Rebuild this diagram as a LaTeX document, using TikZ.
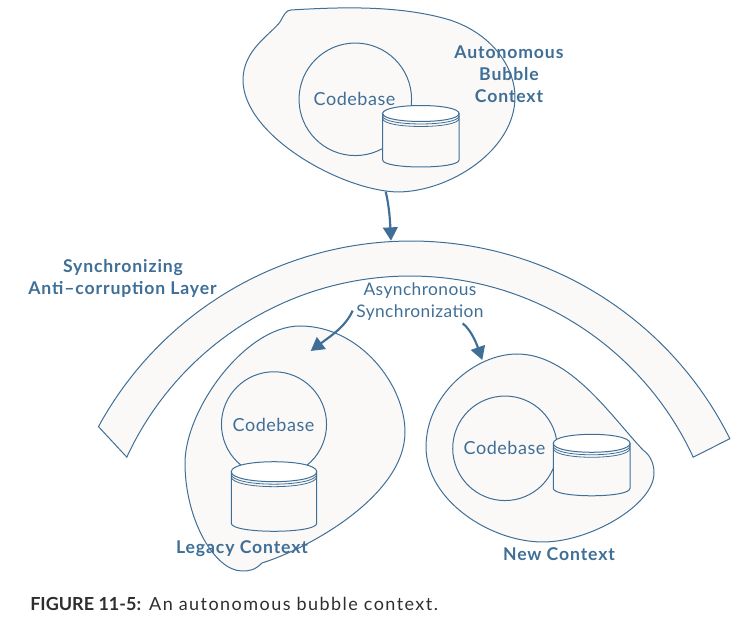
\documentclass[tikz,border=0pt]{standalone}
\usepackage{fontspec}
\setmainfont{Lato}
\usetikzlibrary{arrows.meta}
\definecolor{ink}{HTML}{3F6F96}
\definecolor{paper}{HTML}{FBF9F8}
\definecolor{capt}{HTML}{2E2E2E}
\tikzset{
  blob/.style={draw=ink,fill=paper,line width=0.75pt},
  codecircle/.style={circle,draw=ink,fill=paper,line width=0.75pt,inner sep=0pt},
  bodytext/.style={text=ink,font=\fontsize{13.5pt}{15pt}\selectfont\addfontfeature{LetterSpace=3},inner sep=0pt},
  synctext/.style={text=ink,font=\fontsize{13pt}{15pt}\selectfont\addfontfeature{LetterSpace=2.5},inner sep=0pt},
  boldtext/.style={text=ink,font=\fontsize{13.2pt}{15pt}\selectfont\bfseries\addfontfeature{LetterSpace=5},inner sep=0pt},
  flow/.style={draw=ink,line width=1.6pt,-{Triangle[length=10pt,width=11pt]}}
}
\newcommand{\cylinder}[6]{% left,right,top-centre y,ry,side end y,bottom ry
  \draw[ink,fill=paper,line width=0.75pt] (#1,#3) -- (#1,#5) .. controls (#1,#5+1.33*#6) and (#2,#5+1.33*#6) .. (#2,#5) -- (#2,#3) -- cycle;
  \draw[ink,fill=white,line width=0.75pt] (#1,#3) .. controls (#1,#3-1.33*#4) and (#2,#3-1.33*#4) .. (#2,#3) .. controls (#2,#3+1.33*#4) and (#1,#3+1.33*#4) .. cycle;
  \draw[ink,line width=0.6pt] (#1,#3+2.5) .. controls (#1,#3+2.5+1.33*#4) and (#2,#3+2.5+1.33*#4) .. (#2,#3+2.5);
  \draw[ink,line width=0.6pt] (#1,#3+5) .. controls (#1,#3+5+1.33*#4) and (#2,#3+5+1.33*#4) .. (#2,#3+5);
}
\begin{document}
\begin{tikzpicture}[x=0.75pt,y=-0.75pt]
\useasboundingbox (0,0) rectangle (751,620);
% band
\draw[blob] plot[domain=208.6:333.6,samples=80] ({411+356*cos(\x)},{597+356*sin(\x)})
  -- plot[domain=335.2:204.8,samples=80] ({410+312*cos(\x)},{588+312*sin(\x)}) -- cycle;
% top bubble
\draw[blob] (291,10) .. controls (340,7) and (400,5) .. (450,20) .. controls (495,35) and (515,70) .. (515,97) .. controls (515,150) and (450,192) .. (397,192) .. controls (340,190) and (243,135) .. (243,80) .. controls (243,50) and (270,35) .. (280,22) .. controls (284,15) and (286,10) .. cycle;
\node[codecircle,minimum size=84.4pt] (c1) at (355.3,99.3) {};
\cylinder{382.7}{459}{113.5}{8}{160}{7}
% legacy
\draw[blob] (262,563) .. controls (310,548) and (405,495) .. (405,432) .. controls (405,385) and (360,326) .. (300,326) .. controls (245,326) and (185,410) .. (185,463) .. controls (185,520) and (215,571) .. (242,571) .. controls (250,571) and (255,570) .. cycle;
\node[codecircle,minimum size=78.8pt] (c2) at (274,424.3) {};
\cylinder{231.3}{316.7}{471.7}{10}{523.3}{8}
% new
\draw[blob] (517,354) .. controls (570,354) and (610,415) .. (643,450) .. controls (650,455) and (654,463) .. (654,473) .. controls (654,505) and (590,542) .. (543,542) .. controls (490,542) and (426,500) .. (426,447) .. controls (426,395) and (475,354) .. cycle;
\node[codecircle,minimum size=78.4pt] (c3) at (505,448.3) {};
\cylinder{553.3}{630}{443.3}{9}{488.3}{7.5}
% texts
\node[bodytext] at (354.5,99) {Codebase};
\node[bodytext] at (273.5,425) {Codebase};
\node[bodytext] at (504.5,448) {Codebase};
\node[synctext] (as1) at (420,291) {Asynchronous};
\node[synctext] (as2) at (420,313) {Synchronization};
\node[boldtext] at (509,52) {Autonomous};
\node[boldtext] at (509,74) {Bubble};
\node[boldtext] at (509,96) {Context};
\node[boldtext] at (123,268) {Synchronizing};
\node[boldtext] at (122.5,289) {Anti–corruption Layer};
\node[boldtext] at (242,549) {Legacy Context};
\node[boldtext] at (559,554) {New Context};
\node[anchor=west,inner sep=0pt,text=capt,font=\fontsize{13.5pt}{15pt}\selectfont] at (30,604) {\textbf{FIGURE 11-5:}\hspace{6pt}{\addfontfeature{LetterSpace=8}An autonomous bubble context.}};
% connectors
\coordinate (a1s) at (385.7,191.7);
\coordinate (a1e) at (391,240.7);
\coordinate (a2s) at (352.7,310.7);
\coordinate (a2e) at (310.7,351);
\coordinate (a3s) at (462.7,323.3);
\coordinate (a3e) at (482.3,360);
\draw[flow] (a1s) .. controls (389,205) and (390,220) .. (a1e);
\draw[flow] (a2s) .. controls (345,327) and (332,335) .. (a2e);
\draw[flow] (a3s) .. controls (472,331) and (477,345) .. (a3e);
\end{tikzpicture}
\end{document}
